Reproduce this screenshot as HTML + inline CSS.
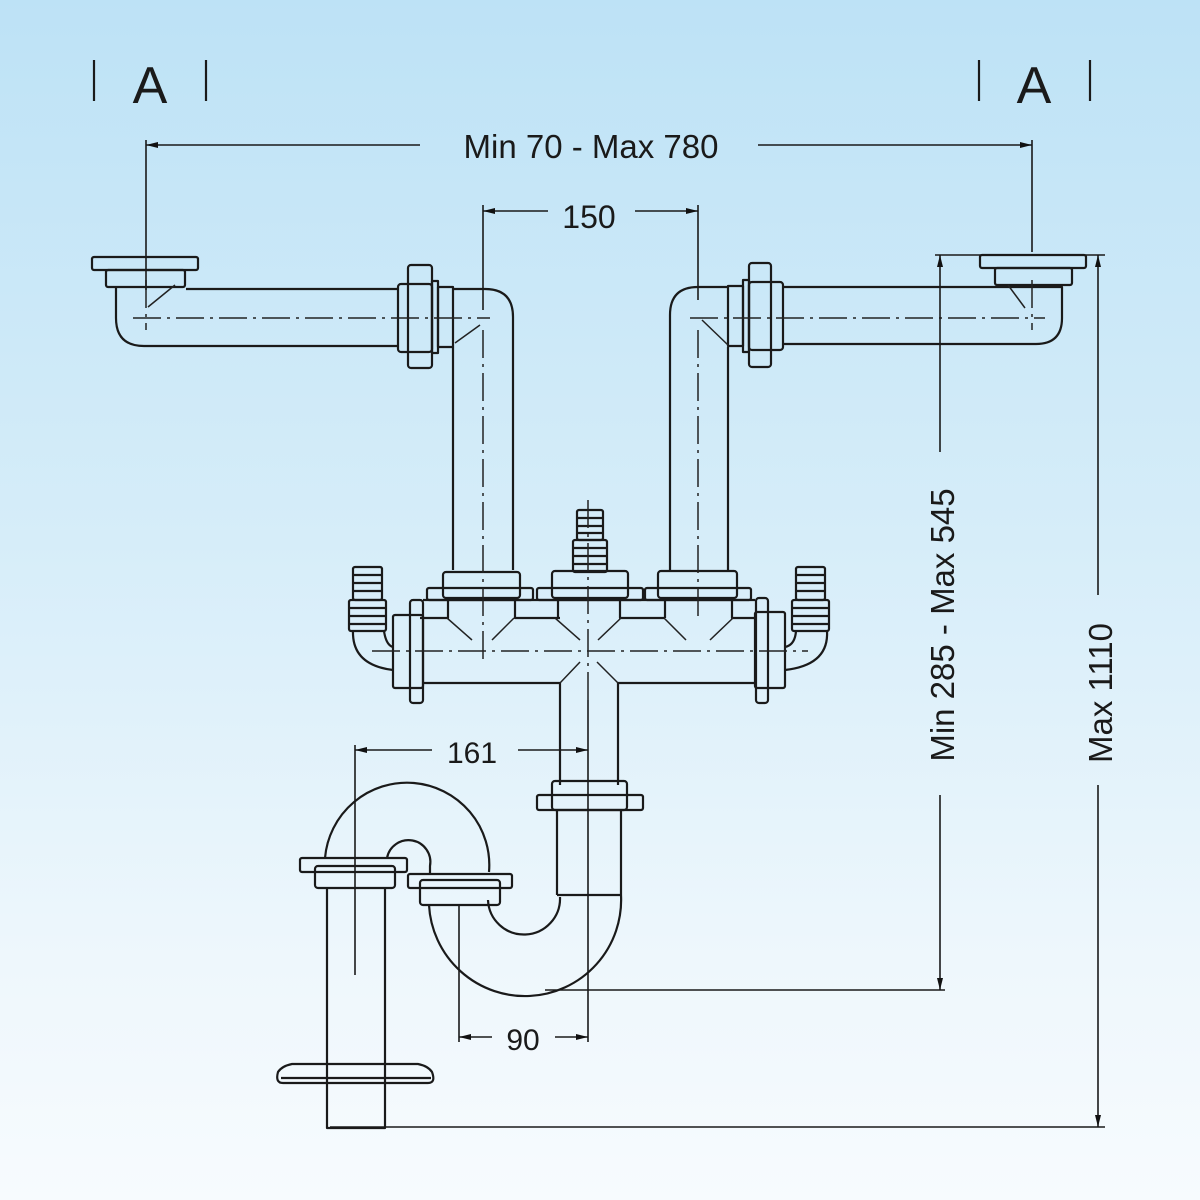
<!DOCTYPE html>
<html><head><style>
html,body{margin:0;padding:0;}
body{width:1200px;height:1200px;background:linear-gradient(#bde2f6 0%,#d6edf9 45%,#eef7fc 80%,#f7fbfe 100%);}
svg{display:block;}
text{font-family:"Liberation Sans",sans-serif;fill:#1a1a1a;}
</style></head><body>
<svg width="1200" height="1200" viewBox="0 0 1200 1200">
<defs>
<marker id="ar" viewBox="0 0 12 6" refX="12" refY="3" markerWidth="12" markerHeight="6" orient="auto-start-reverse" markerUnits="userSpaceOnUse"><path d="M0,0L12,3L0,6z" fill="#111"/></marker>
</defs>
<g stroke="#1a1a1a" stroke-width="2.2" fill="none" stroke-linejoin="round">
<line x1="94" y1="60" x2="94" y2="101"/><line x1="206" y1="60" x2="206" y2="101"/>
<line x1="979" y1="60" x2="979" y2="101"/><line x1="1090" y1="60" x2="1090" y2="101"/>

<path d="M116,287 L116,318 Q116,346 144,346 L398,346 M398,289 L186,289"/>
<rect x="92" y="257" width="106" height="13" rx="2"/>
<rect x="106" y="270" width="79" height="17" rx="2"/>
<rect x="398" y="284" width="34" height="68" rx="3"/>
<rect x="408" y="265" width="24" height="103" rx="3"/>
<rect x="432" y="281" width="6" height="72"/>
<rect x="438" y="287" width="15" height="60"/>
<path d="M453,289 L485,289 Q513,289 513,317 L513,570 M453,347 L453,570"/>

<path d="M783,287 L1062,287 L1062,318 Q1062,344 1036,344 L783,344"/>
<rect x="980" y="255" width="106" height="13" rx="2"/>
<rect x="995" y="268" width="77" height="17" rx="2"/>
<rect x="749" y="282" width="34" height="68" rx="3"/>
<rect x="749" y="263" width="22" height="104" rx="3"/>
<rect x="743" y="280" width="6" height="72"/>
<rect x="728" y="286" width="15" height="60"/>
<path d="M728,287 L698,287 Q670,287 670,315 L670,570 M728,347 L728,570"/>

<path d="M423,600 L755,600 M423,683 L560,683 L560,785 M755,683 L618,683 L618,785"/>
<rect x="393" y="615" width="30" height="73" rx="2"/>
<rect x="410" y="600" width="13" height="103" rx="3"/>
<rect x="755" y="612" width="30" height="76" rx="2"/>
<rect x="756" y="598" width="12" height="105" rx="3"/>
<rect x="443" y="572" width="77" height="26" rx="3"/>
<rect x="427" y="588" width="106" height="12" rx="2"/>
<rect x="552" y="571" width="76" height="27" rx="3"/>
<rect x="537" y="588" width="106" height="12" rx="2"/>
<rect x="658" y="571" width="79" height="27" rx="3"/>
<rect x="645" y="588" width="106" height="12" rx="2"/>
<path d="M448,600 L448,618 L420,618 M515,600 L515,618 L560,618 M558,600 L558,618 M620,600 L620,618 L665,618 M665,600 L665,618 M732,600 L732,618 L755,618"/>
<rect x="577" y="510" width="26" height="30" rx="2"/>
<rect x="573" y="540" width="34" height="32" rx="2"/>
<path d="M577,518 L603,518 M577,526 L603,526 M577,533 L603,533 M573,548 L607,548 M573,556 L607,556 M573,564 L607,564"/>
<rect x="353" y="567" width="29" height="33" rx="2"/>
<rect x="349" y="600" width="37" height="31" rx="2"/>
<path d="M353,575 L382,575 M353,583 L382,583 M353,591 L382,591 M349,608 L386,608 M349,616 L386,616 M349,624 L386,624"/>
<path d="M353,631 Q352,665 393,670 M384,631 Q386,645 393,647"/>
<rect x="796" y="567" width="29" height="33" rx="2"/>
<rect x="792" y="600" width="37" height="31" rx="2"/>
<path d="M796,575 L825,575 M796,583 L825,583 M796,591 L825,591 M792,608 L829,608 M792,616 L829,616 M792,624 L829,624"/>
<path d="M827,631 Q829,665 785,670 M796,631 Q795,645 785,647"/>

<rect x="537" y="795" width="106" height="15" rx="2"/>
<rect x="552" y="781" width="75" height="29" rx="3"/>
<path d="M557,810 L557,895 M621,810 L621,895 M557,895 L621,895"/>
<path d="M621,895 A95,95 0 0 1 429,905"/>
<path d="M560,897 A36,36 0 0 1 488,900"/>
<rect x="408" y="874" width="104" height="14" rx="2"/>
<rect x="420" y="880" width="80" height="25" rx="3"/>
<path d="M325,858 A82,82 0 0 1 489,872"/>
<path d="M387,858 A21,21 0 0 1 430,866 L430,874"/>
<rect x="300" y="858" width="107" height="14" rx="2"/>
<rect x="315" y="866" width="80" height="22" rx="3"/>
<path d="M327,888 L327,1128 L385,1128 L385,888"/>
<path d="M283,1083 L428,1083 Q436,1083 432,1072 Q428,1066 418,1064 L292,1064 Q282,1066 278,1072 Q275,1083 283,1083 Z"/>
<line x1="281" y1="1078" x2="431" y2="1078"/>
</g>

<g stroke="#222" stroke-width="1.5" fill="none" stroke-dasharray="28,6,3,6">
<line x1="133" y1="318" x2="490" y2="318"/>
<line x1="690" y1="318" x2="1045" y2="318"/>
<line x1="372" y1="651" x2="808" y2="651"/>
<line x1="146" y1="280" x2="146" y2="330"/>
<line x1="1032" y1="280" x2="1032" y2="330"/>
<line x1="483" y1="330" x2="483" y2="660"/>
<line x1="698" y1="330" x2="698" y2="620"/>
<line x1="588" y1="500" x2="588" y2="700"/>
</g>
<g stroke="#222" stroke-width="1.5" fill="none">
<path d="M148,307 L175,285 M455,343 L480,325 M1008,285 L1025,308 M702,320 L728,345"/>
<path d="M447,618 L472,640 M514,618 L492,640 M555,618 L580,640 M621,618 L598,640 M664,618 L686,640 M733,618 L710,640 M580,662 L560,683 M597,662 L618,683"/>
</g>

<g stroke="#1a1a1a" stroke-width="1.6" fill="none">
<line x1="146" y1="140" x2="146" y2="290"/>
<line x1="1032" y1="140" x2="1032" y2="252"/>
<line x1="146" y1="145" x2="420" y2="145" marker-start="url(#ar)"/>
<line x1="758" y1="145" x2="1032" y2="145" marker-end="url(#ar)"/>
<line x1="483" y1="205" x2="483" y2="310"/>
<line x1="698" y1="205" x2="698" y2="300"/>
<line x1="483" y1="211" x2="548" y2="211" marker-start="url(#ar)"/>
<line x1="635" y1="211" x2="698" y2="211" marker-end="url(#ar)"/>
<line x1="355" y1="745" x2="355" y2="975"/>
<line x1="588" y1="700" x2="588" y2="1042"/>
<line x1="355" y1="750" x2="432" y2="750" marker-start="url(#ar)"/>
<line x1="518" y1="750" x2="588" y2="750" marker-end="url(#ar)"/>
<line x1="459" y1="905" x2="459" y2="1042"/>
<line x1="459" y1="1037" x2="492" y2="1037" marker-start="url(#ar)"/>
<line x1="555" y1="1037" x2="588" y2="1037" marker-end="url(#ar)"/>
<line x1="935" y1="255" x2="1105" y2="255"/>
<line x1="545" y1="990" x2="945" y2="990"/>
<line x1="330" y1="1127" x2="1105" y2="1127"/>
<line x1="940" y1="255" x2="940" y2="452" marker-start="url(#ar)"/>
<line x1="940" y1="795" x2="940" y2="990" marker-end="url(#ar)"/>
<line x1="1098" y1="255" x2="1098" y2="595" marker-start="url(#ar)"/>
<line x1="1098" y1="785" x2="1098" y2="1127" marker-end="url(#ar)"/>
</g>

<text x="150" y="103" font-size="52" text-anchor="middle">A</text>
<text x="1034" y="103" font-size="52" text-anchor="middle">A</text>
<text x="591" y="158" font-size="33" text-anchor="middle">Min 70 - Max 780</text>
<text x="589" y="228" font-size="32" text-anchor="middle">150</text>
<text x="472" y="763" font-size="30" text-anchor="middle">161</text>
<text x="523" y="1050" font-size="30" text-anchor="middle">90</text>
<text transform="translate(954,625) rotate(-90)" font-size="33" text-anchor="middle">Min 285 - Max 545</text>
<text transform="translate(1112,693) rotate(-90)" font-size="33" text-anchor="middle">Max 1110</text>
</svg>
</body></html>
